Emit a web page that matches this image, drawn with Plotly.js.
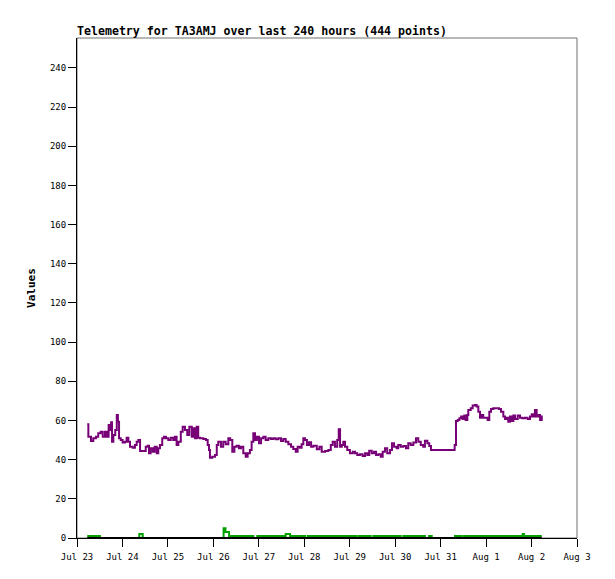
<!DOCTYPE html>
<html>
<head>
<meta charset="utf-8">
<script src="https://cdn.plot.ly/plotly-3.0.1.min.js"></script>
<style>
  html, body { margin: 0; padding: 0; background: #fff; }
  #plot { width: 615px; height: 579px; }
</style>
</head>
<body>
<div id="plot"></div>
<script>
// hours since Jul 23 00:00
var purpleHours = [
    5.4, 6.0, 7.4, 8.6, 10.0, 11.2, 12.5, 13.6, 14.8, 15.7,
    16.7, 17.4, 18.0, 18.5, 19.2, 20.2, 21.0, 21.6, 22.2, 23.1,
    24.1, 25.3, 26.2, 27.1, 28.0, 29.4, 30.6, 31.5, 32.4, 33.3,
    35.0, 36.3, 37.3, 38.0, 38.9, 40.0, 41.0, 42.1, 42.9, 43.8,
    45.0, 45.9, 47.0, 48.2, 49.5, 50.8, 51.7, 52.6, 53.5, 54.8,
    55.8, 57.0, 58.2, 59.3, 60.6, 61.4, 62.3, 63.2, 64.0, 64.9,
    66.7, 68.1, 69.0, 69.7, 70.2, 71.4, 72.9, 73.8, 74.6, 76.0,
    77.2, 78.5, 79.9, 80.9, 82.0, 83.1, 84.3, 85.5, 86.6, 87.8,
    89.1, 90.1, 91.3, 92.2, 93.1, 94.0, 95.0, 96.1, 97.2, 98.4,
    99.6, 101.0, 102.4, 103.6, 104.9, 106.3, 107.7, 108.9, 110.2, 111.6,
    113.0, 114.2, 115.5, 116.5, 117.7, 118.6, 119.5, 120.4, 121.4, 122.5,
    123.6, 124.8, 126.6, 128.0, 129.2, 131.0, 132.7, 134.0, 135.0, 136.2,
    137.4, 138.2, 138.9, 139.8, 140.6, 141.5, 142.7, 144.1, 145.6, 146.8,
    148.0, 149.4, 150.8, 152.1, 153.3, 154.3, 155.6, 156.8, 157.9, 159.1,
    160.4, 161.4, 162.6, 163.8, 165.3, 166.3, 167.4, 168.8, 169.6, 170.9,
    172.3, 173.7, 174.9, 176.2, 177.6, 179.0, 180.2, 181.5, 182.8, 183.7,
    185.0, 186.0, 186.9, 199.4, 200.1, 201.0, 201.9, 202.8, 203.6, 204.5,
    205.2, 206.1, 206.6, 207.9, 208.9, 210.1, 211.0, 211.9, 212.8, 213.7,
    214.5, 215.8, 216.8, 217.7, 218.6, 219.8, 221.6, 222.8, 223.9, 225.1,
    226.0, 226.9, 227.7, 228.6, 229.5, 230.4, 231.3, 232.7, 233.9, 235.1,
    236.5, 237.9, 239.2, 240.1, 240.9, 241.8, 242.7, 243.6, 244.5, 245.4
];
var purpleValues = [
    58.1, 51.7, 49.5, 50.9, 51.7, 53.5, 54.3, 51.7, 54.3, 51.7,
    57.7, 55.2, 59.1, 49.2, 52.6, 55.2, 62.8, 59.4, 50.9, 50.0,
    48.7, 49.2, 51.2, 49.2, 46.6, 46.1, 47.5, 49.2, 50.0, 44.4,
    44.4, 46.6, 47.1, 43.3, 45.8, 44.1, 46.6, 43.3, 45.8, 47.5,
    50.9, 51.7, 50.9, 50.0, 51.2, 50.0, 51.7, 47.5, 49.2, 54.3,
    56.8, 55.2, 52.6, 56.8, 51.7, 56.0, 50.9, 56.8, 51.2, 50.9,
    50.6, 50.0, 47.5, 44.9, 41.0, 41.5, 42.4, 47.5, 49.2, 46.6,
    49.2, 47.9, 50.9, 50.0, 44.1, 46.6, 47.1, 45.8, 46.6, 43.3,
    41.5, 43.3, 44.9, 49.2, 53.5, 50.0, 51.7, 48.4, 50.9, 51.7,
    50.0, 50.9, 50.6, 50.9, 50.4, 50.9, 49.5, 50.6, 49.2, 47.9,
    46.6, 45.5, 44.1, 46.6, 46.1, 47.9, 50.9, 50.0, 47.5, 48.9,
    46.6, 47.1, 45.3, 46.6, 44.1, 44.4, 44.9, 47.5, 49.2, 46.6,
    50.0, 55.5, 46.6, 47.5, 49.2, 46.6, 44.9, 43.3, 44.1, 43.3,
    42.4, 42.7, 41.9, 43.3, 42.4, 44.6, 43.3, 44.1, 42.4, 42.7,
    41.5, 44.1, 45.8, 43.3, 44.9, 48.4, 46.6, 45.8, 47.5, 46.6,
    47.0, 45.8, 48.4, 47.5, 48.7, 50.9, 49.2, 47.5, 46.6, 49.7,
    48.4, 47.0, 44.9, 47.5, 59.8, 60.3, 61.1, 62.0, 60.8, 62.5,
    60.3, 62.8, 65.4, 66.2, 67.6, 67.9, 67.1, 64.5, 61.4, 62.8,
    61.4, 61.4, 60.3, 64.5, 65.9, 66.2, 66.2, 65.9, 64.5, 62.0,
    60.8, 61.4, 59.4, 62.0, 59.8, 62.5, 60.8, 62.5, 61.4, 61.1,
    61.4, 60.8, 62.0, 63.2, 62.0, 65.4, 62.0, 62.8, 60.3, 62.5
];

var greenHours = [
    5.4, 12.1, 32.9, 34.7, 77.4, 78.4, 80.3, 93.1, 95.2, 101.5,
    102.4, 106.0, 106.8, 110.2, 112.5, 120.4, 121.8, 135.3, 136.2, 138.0,
    138.9, 147.7, 148.9, 155.1, 156.5, 164.4, 165.3, 170.9, 172.3, 183.7,
    185.9, 187.3, 199.6, 203.1, 204.3, 206.1, 207.1, 208.9, 209.3, 211.0,
    211.9, 213.1, 213.7, 214.5, 215.4, 226.9, 227.7, 228.6, 229.5, 235.3,
    236.0, 245.4
];
var greenValues = [
    1, 0, 2, 0, 5, 3, 1, 0, 1, 0,
    1, 0, 1, 2, 1, 0, 1, 0, 1, 0,
    1, 0, 1, 0, 1, 0, 1, 0, 1, 0,
    1, 0, 1, 0, 1, 0, 1, 0, 1, 0,
    1, 0, 1, 0, 1, 0, 1, 0, 1, 2,
    1, 1
];

var zeroHours = [5.4, 245.4];
var zeroValues = [0, 0];

var yTicks = [0, 20, 40, 60, 80, 100, 120, 140, 160, 180, 200, 220, 240];

var baseTime = Date.UTC(2024, 6, 23);
function toDate(h) {
    return new Date(baseTime + h * 3600000).toISOString().slice(0, 19).replace('T', ' ');
}

var traces = [
    {
        type: 'scatter', mode: 'lines',
        x: greenHours.map(toDate), y: greenValues,
        line: { color: '#00a000', width: 2, shape: 'hv' },
        hoverinfo: 'skip'
    },
    {
        type: 'scatter', mode: 'lines',
        x: zeroHours.map(toDate), y: zeroValues,
        line: { color: '#000000', width: 2 },
        hoverinfo: 'skip'
    },
    {
        type: 'scatter', mode: 'lines',
        x: purpleHours.map(toDate), y: purpleValues,
        line: { color: '#770077', width: 2, shape: 'hv' },
        hoverinfo: 'skip'
    }
];

var tickFont = { family: 'DejaVu Sans Mono', size: 9, color: '#000' };

var layout = {
    width: 615,
    height: 579,
    showlegend: false,
    paper_bgcolor: '#ffffff',
    plot_bgcolor: '#ffffff',
    margin: { l: 77, r: 38, t: 38, b: 41, pad: 0 },
    title: {
        text: 'Telemetry for TA3AMJ over last 240 hours (444 points)',
        font: { family: 'DejaVu Sans Mono', size: 11.6, color: '#000', weight: 'bold' },
        x: 77 / 615, xanchor: 'left',
        y: 1 - 35 / 579, yanchor: 'bottom'
    },
    xaxis: {
        type: 'date',
        range: [toDate(0), toDate(264)],
        dtick: 86400000,
        tick0: toDate(0),
        tickformat: '%b %-d',
        ticks: 'outside', ticklen: 8, tickwidth: 1, tickcolor: '#000',
        ticklabelstandoff: 2,
        showline: true, linecolor: '#000', linewidth: 1,
        showgrid: false, zeroline: false,
        tickfont: tickFont
    },
    yaxis: {
        range: [0, 255.3],
        tickvals: yTicks,
        ticks: 'outside', ticklen: 8, tickwidth: 1, tickcolor: '#000',
        showline: true, linecolor: '#000', linewidth: 1,
        showgrid: false, zeroline: false,
        tickfont: tickFont,
        title: {
            text: 'Values',
            font: { family: 'DejaVu Sans Mono', size: 11, color: '#000', weight: 'bold' },
            standoff: 12
        }
    },
    shapes: [{
        type: 'rect', xref: 'paper', yref: 'paper',
        x0: 0, x1: 1, y0: 0, y1: 1,
        line: { color: '#707070', width: 1 },
        layer: 'below'
    }]
};

Plotly.newPlot('plot', traces, layout, { displayModeBar: false, staticPlot: true });
</script>
</body>
</html>
